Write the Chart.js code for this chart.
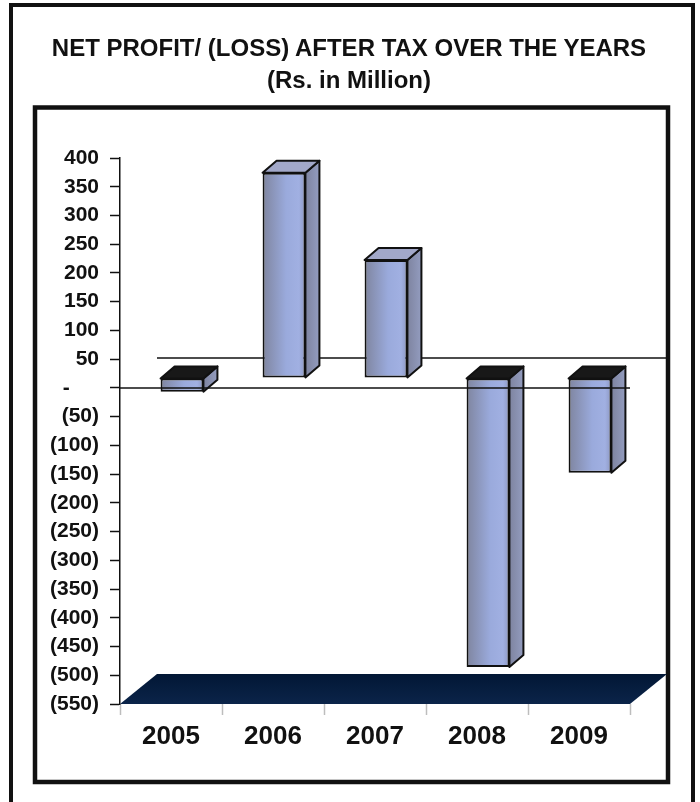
<!DOCTYPE html>
<html>
<head>
<meta charset="utf-8">
<title>Net Profit / (Loss) After Tax</title>
<script src="https://cdn.jsdelivr.net/npm/chart.js@4.4.1/dist/chart.umd.min.js"></script>
<style>
  html, body { margin: 0; padding: 0; background: #fff; }
  .wrap { position: relative; width: 700px; height: 802px; overflow: hidden; }
  canvas { display: block; }
  .heading {
    position: absolute; left: 0; top: 32px; width: 698px;
    text-align: center; color: #111;
    font: bold 24px/32px 'Liberation Sans', Arial, Helvetica, sans-serif;
  }
</style>
</head>
<body>
<div class="wrap">
  <canvas id="profitChart" width="700" height="802"></canvas>
  <div class="heading" id="heading"></div>
</div>
<script>
const years = ['2005', '2006', '2007', '2008', '2009'];
const profitAfterTax = [-24, 357, 205, -503, -165]; // Rs. in million
const yMin = -550;
const yMax = 400;
const yStep = 50;
const titleLines = ['NET PROFIT/ (LOSS) AFTER TAX OVER THE YEARS', '(Rs. in Million)'];

const FONT = "'Liberation Sans', Arial, Helvetica, sans-serif";
const INK = '#111';
const BAR_PCT = 0.42;

// fake 3D: bars stand a bit inside the floor, with a shallow depth
const barShift = { x: 11, y: -10 };
const barDepth = { x: 14, y: -12 };
const floorDepth = { x: 37, y: -30 };

document.getElementById('heading').innerHTML = titleLines.join('<br>');

// accounting style ticks: 50, -, (50)
function tickText(v) {
  if (v === 0) return '-     ';
  return v < 0 ? '(' + (-v) + ')' : String(v);
}

function face(ctx, pts, fill) {
  ctx.beginPath();
  ctx.moveTo(pts[0][0], pts[0][1]);
  for (let i = 1; i < pts.length; i++) ctx.lineTo(pts[i][0], pts[i][1]);
  ctx.closePath();
  ctx.fillStyle = fill;
  ctx.fill();
  ctx.stroke();
}

const frame3d = {
  id: 'frame3d',
  beforeDraw(chart) {
    const ctx = chart.ctx;
    ctx.save();
    ctx.fillStyle = '#fff';
    ctx.fillRect(0, 0, chart.width, chart.height);
    ctx.strokeStyle = INK;
    ctx.lineWidth = 4;
    ctx.strokeRect(11, 5, 682, 830);      // outer page frame
    ctx.lineWidth = 4.5;
    ctx.strokeRect(35, 107.5, 633, 674.5); // chart box
    ctx.restore();
  },
  beforeDatasetsDraw(chart) {
    const { ctx, chartArea: a, scales: { y } } = chart;
    const fy = y.getPixelForValue(yMin);
    ctx.save();
    // floor
    ctx.beginPath();
    ctx.moveTo(a.left, fy);
    ctx.lineTo(a.right, fy);
    ctx.lineTo(a.right + floorDepth.x, fy + floorDepth.y);
    ctx.lineTo(a.left + floorDepth.x, fy + floorDepth.y);
    ctx.closePath();
    const g = ctx.createLinearGradient(0, fy + floorDepth.y, 0, fy);
    g.addColorStop(0, '#021735');
    g.addColorStop(1, '#0b2449');
    ctx.fillStyle = g;
    ctx.fill();
    // zero line on the back wall
    const zy = y.getPixelForValue(0) + floorDepth.y;
    ctx.strokeStyle = INK;
    ctx.lineWidth = 1.5;
    ctx.beginPath();
    ctx.moveTo(a.left + floorDepth.x, zy);
    ctx.lineTo(a.right + floorDepth.x, zy);
    ctx.stroke();
    ctx.restore();
    // bars are drawn pushed back into the depth
    ctx.save();
    ctx.translate(barShift.x, barShift.y);
  },
  afterDatasetsDraw(chart) {
    const { ctx, chartArea: a, scales: { y } } = chart;
    const meta = chart.getDatasetMeta(0);
    ctx.strokeStyle = INK;
    ctx.lineWidth = 2;
    ctx.lineJoin = 'round';
    meta.data.forEach((bar, i) => {
      const p = bar.getProps(['x', 'y', 'base', 'width'], true);
      const L = p.x - p.width / 2, R = p.x + p.width / 2;
      const T = Math.min(p.y, p.base), B = Math.max(p.y, p.base);
      const dx = barDepth.x, dy = barDepth.y;
      const side = ctx.createLinearGradient(R, 0, R + dx, 0);
      side.addColorStop(0, '#7e84a0');
      side.addColorStop(1, '#939cbf');
      face(ctx, [[R, T], [R + dx, T + dy], [R + dx, B + dy], [R, B]], side);
      const top = profitAfterTax[i] < 0 ? '#181818' : '#a2a8c9';
      face(ctx, [[L, T], [L + dx, T + dy], [R + dx, T + dy], [R, T]], top);
    });
    ctx.restore();
    // front zero line
    const zy = y.getPixelForValue(0);
    ctx.save();
    ctx.strokeStyle = INK;
    ctx.lineWidth = 1.5;
    ctx.beginPath();
    ctx.moveTo(a.left, zy);
    ctx.lineTo(a.right, zy);
    ctx.stroke();
    ctx.restore();
  }
};

const ctx = document.getElementById('profitChart');
new Chart(ctx, {
  type: 'bar',
  data: {
    labels: years,
    datasets: [{
      label: 'Net profit / (loss) after tax',
      data: profitAfterTax,
      backgroundColor(c) {
        const chart = c.chart;
        const xs = chart.scales.x;
        if (!chart.chartArea || !xs || c.type !== 'data') return '#95a2d0';
        const cx = xs.getPixelForValue(c.dataIndex);
        const w = xs.width / years.length * BAR_PCT;
        const g = chart.ctx.createLinearGradient(cx - w / 2, 0, cx + w / 2, 0);
        g.addColorStop(0, '#7f859f');
        g.addColorStop(0.55, '#9aaadc');
        g.addColorStop(0.85, '#a1b0e2');
        g.addColorStop(1, '#8c97c2');
        return g;
      },
      borderColor: INK,
      borderWidth: 2,
      borderSkipped: false,
      categoryPercentage: 1,
      barPercentage: BAR_PCT
    }]
  },
  options: {
    responsive: false,
    devicePixelRatio: 1,
    animation: false,
    layout: { padding: { left: 40, right: 70, top: 158, bottom: 43 } },
    plugins: {
      legend: { display: false },
      tooltip: { enabled: false },
      title: { display: false }
    },
    scales: {
      x: {
        grid: { display: true, drawOnChartArea: false, offset: true, tickLength: 11, tickColor: '#bdbdbd', tickWidth: 1.5 },
        border: { display: false },
        ticks: { color: INK, padding: 6, font: { family: FONT, size: 26, weight: 'bold' } },
        afterFit(s) { s.height = 55; }
      },
      y: {
        min: yMin,
        max: yMax,
        grid: { display: true, drawOnChartArea: false, tickLength: 10, tickColor: INK, tickWidth: 1.5 },
        border: { display: true, color: INK, width: 1.5 },
        ticks: {
          stepSize: yStep,
          autoSkip: false,
          color: INK,
          padding: 11,
          font: { family: FONT, size: 21, weight: 'bold' },
          callback: tickText
        },
        afterFit(s) { s.width = 80; }
      }
    }
  },
  plugins: [frame3d]
});
</script>
</body>
</html>
